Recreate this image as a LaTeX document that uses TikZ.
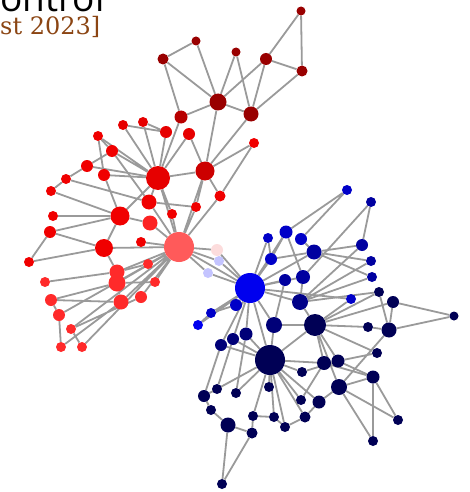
\documentclass[tikz,border=0pt]{standalone}
\usepackage{fontspec}
\newfontfamily\titlefont{Open Sans}
\newfontfamily\datefont{DejaVu Serif}
\usetikzlibrary{backgrounds}

\definecolor{crimsondk}{HTML}{990000}
\definecolor{crimsonmd}{HTML}{B80000}
\definecolor{redhub}{HTML}{CC0000}
\definecolor{redc}{HTML}{E60000}
\definecolor{redn}{HTML}{F00000}
\definecolor{redlt}{HTML}{FF2A2A}
\definecolor{redhh}{HTML}{FF5A5A}
\definecolor{pinkn}{HTML}{FCDCDC}
\definecolor{lavn}{HTML}{C4C4FF}
\definecolor{blhub}{HTML}{0000EE}
\definecolor{bln}{HTML}{0000C8}
\definecolor{blmd}{HTML}{0000A0}
\definecolor{navymd}{HTML}{000078}
\definecolor{navyn}{HTML}{000055}
\definecolor{edgegray}{HTML}{9A9A9A}
\definecolor{datebrown}{RGB}{139,69,19}

\begin{document}
\begin{tikzpicture}[x=1pt,y=-1pt,
  dot/.style={circle,inner sep=0pt,minimum size=#1pt},
  edge/.style={draw=edgegray,line width=1.8pt}]
\useasboundingbox (0,0) rectangle (469,492);
\node[anchor=base west,inner sep=0pt,font=\titlefont\fontsize{37}{40}\selectfont] (title) at (0,12) {ontrol};
\node[anchor=base west,inner sep=0pt,font=\datefont\fontsize{24}{28}\selectfont,text=datebrown] (date) at (0,35) {st 2023]};
% dark red group
\node[dot=9,fill=crimsondk] (a1) at (301,11) {};
\node[dot=9,fill=crimsondk] (a2) at (196,41) {};
\node[dot=11,fill=crimsondk] (a3) at (163,59) {};
\node[dot=9,fill=crimsondk] (a4) at (236,52) {};
\node[dot=12,fill=crimsondk] (a5) at (266,59) {};
\node[dot=11,fill=crimsondk] (a6) at (302,71) {};
\node[dot=17,fill=crimsondk] (a7) at (218,102) {};
\node[dot=15,fill=crimsondk] (a8) at (251,114) {};
\node[dot=13,fill=crimsonmd] (a9) at (181,117) {};
\node[dot=12,fill=redc] (a10) at (166,132) {};
\node[dot=12,fill=redc] (a11) at (189,134) {};
\node[dot=10,fill=redn] (a12) at (254,143) {};
% red group
\node[dot=24,fill=redc] (c1) at (158,178) {};
\node[dot=19,fill=redhub] (c2) at (205,171) {};
\node[dot=11,fill=redn] (c3) at (220,196) {};
\node[dot=10,fill=redc] (r1) at (123,125) {};
\node[dot=10,fill=redc] (r2) at (143,122) {};
\node[dot=10,fill=redn] (r3) at (98,136) {};
\node[dot=12,fill=redn] (r4) at (112,151) {};
\node[dot=12,fill=redn] (r5) at (87,166) {};
\node[dot=12,fill=redn] (r6) at (104,175) {};
\node[dot=10,fill=redn] (r7) at (66,179) {};
\node[dot=10,fill=redn] (r8) at (51,191) {};
\node[dot=15,fill=redn] (r9) at (149,202) {};
\node[dot=10,fill=redn] (r10) at (196,207) {};
\node[dot=19,fill=redn] (r11) at (120,216) {};
\node[dot=10,fill=redn] (r12) at (172,214) {};
\node[dot=10,fill=redn] (r13) at (53,216) {};
\node[dot=15,fill=redlt!80!redn] (r14) at (150,223) {};
\node[dot=12,fill=redn] (r15) at (50,232) {};
\node[dot=18,fill=redn] (r16) at (104,248) {};
\node[dot=10,fill=redn] (r17) at (141,242) {};
\node[dot=10,fill=redn] (r18) at (29,262) {};
\node[dot=15,fill=redlt] (r19) at (117,272) {};
\node[dot=17,fill=redlt] (r20) at (117,283) {};
\node[dot=10,fill=redlt] (r21) at (148,264) {};
\node[dot=10,fill=redlt] (r22) at (155,282) {};
\node[dot=10,fill=redlt] (r23) at (45,282) {};
\node[dot=15,fill=redlt] (r24) at (121,302) {};
\node[dot=12,fill=redlt] (r25) at (141,297) {};
\node[dot=12,fill=redlt] (r26) at (51,300) {};
\node[dot=12,fill=redlt] (r27) at (59,315) {};
\node[dot=10,fill=redlt] (r28) at (71,329) {};
\node[dot=10,fill=redlt] (r29) at (61,347) {};
\node[dot=10,fill=redlt] (r30) at (82,347) {};
\node[dot=30,fill=redhh] (h) at (179,247) {};
\node[dot=12,fill=pinkn] (p1) at (217,250) {};
\node[dot=10,fill=lavn] (p2) at (219,261) {};
\node[dot=10,fill=lavn] (p3) at (208,273) {};
% blue group
\node[dot=30,fill=blhub] (b0) at (250,288) {};
\node[dot=10,fill=bln] (b1) at (347,190) {};
\node[dot=10,fill=blmd] (b2) at (371,202) {};
\node[dot=10,fill=bln] (b3) at (268,238) {};
\node[dot=13,fill=bln] (b4) at (286,232) {};
\node[dot=12,fill=bln] (b5) at (301,239) {};
\node[dot=15,fill=blmd] (b6) at (314,252) {};
\node[dot=12,fill=blmd] (b7) at (362,245) {};
\node[dot=10,fill=blmd] (b8) at (371,261) {};
\node[dot=10,fill=blmd] (b9) at (372,277) {};
\node[dot=12,fill=bln] (b10) at (271,259) {};
\node[dot=12,fill=blmd] (b11) at (285,280) {};
\node[dot=14,fill=blmd] (b12) at (303,277) {};
\node[dot=10,fill=bln] (b13) at (351,299) {};
\node[dot=16,fill=blmd!85!black] (b14) at (300,302) {};
\node[dot=12,fill=bln] (b15) at (236,305) {};
\node[dot=10,fill=bln] (b16) at (211,313) {};
\node[dot=10,fill=blhub] (b17) at (198,325) {};
\node[dot=16,fill=navymd] (b18) at (274,325) {};
\node[dot=13,fill=navymd] (b19) at (246,334) {};
\node[dot=12,fill=navymd] (b20) at (233,339) {};
\node[dot=12,fill=navymd] (b21) at (221,345) {};
% navy group
\node[dot=30,fill=navyn] (n0) at (270,360) {};
\node[dot=10,fill=navyn] (n1) at (379,292) {};
\node[dot=12,fill=navyn] (n2) at (393,302) {};
\node[dot=9,fill=navyn] (n3) at (454,316) {};
\node[dot=22,fill=navyn] (n4) at (315,325) {};
\node[dot=10,fill=navyn] (n5) at (368,327) {};
\node[dot=15,fill=navyn] (n6) at (389,330) {};
\node[dot=10,fill=navyn] (n7) at (377,353) {};
\node[dot=14,fill=navyn] (n8) at (324,363) {};
\node[dot=13,fill=navyn] (n9) at (338,361) {};
\node[dot=10,fill=navyn] (n10) at (302,372) {};
\node[dot=16,fill=navyn] (n11) at (339,387) {};
\node[dot=13,fill=navyn] (n12) at (373,377) {};
\node[dot=10,fill=navyn] (n13) at (269,387) {};
\node[dot=10,fill=navyn] (n14) at (217,389) {};
\node[dot=10,fill=navyn] (n15) at (236,393) {};
\node[dot=12,fill=navyn] (n16) at (204,396) {};
\node[dot=10,fill=navyn] (n17) at (301,400) {};
\node[dot=13,fill=navyn] (n18) at (319,402) {};
\node[dot=10,fill=navyn] (n19) at (211,410) {};
\node[dot=10,fill=navyn] (n20) at (253,416) {};
\node[dot=10,fill=navyn] (n21) at (274,417) {};
\node[dot=11,fill=navyn] (n22) at (305,417) {};
\node[dot=15,fill=navyn] (n23) at (228,425) {};
\node[dot=10,fill=navyn] (n24) at (285,427) {};
\node[dot=11,fill=navyn] (n25) at (252,433) {};
\node[dot=10,fill=navyn] (n26) at (398,420) {};
\node[dot=10,fill=navyn] (n27) at (373,441) {};
\node[dot=10,fill=navyn] (n28) at (222,484) {};
\begin{scope}[on background layer]
% top
\draw[edge] (a1) -- (a5) (a1) -- (a6) (a5) -- (a6) (a2) -- (a3) (a2) -- (a7) (a3) -- (a7) (a3) -- (a9);
\draw[edge] (a4) -- (a7) (a4) -- (a8) (a5) -- (a7) (a5) -- (a8) (a6) -- (a8) (a7) -- (a8) (a7) -- (a9);
\draw[edge] (a7) -- (c2) (a8) -- (c2) (a12) -- (c2) (a12) -- (c3) (a11) -- (c2);
% red hubs
\draw[edge] (c1) -- (a9) (c1) -- (a10) (c1) -- (r1) (c1) -- (r2) (c1) -- (a11) (c1) -- (r3) (c1) -- (r4) (c1) -- (r5);
\draw[edge] (c1) -- (r6) (c1) -- (c2) (c1) -- (r9) (c1) -- (r11) (c1) -- (r12) (c1) -- (h) (r1) -- (a10) (r2) -- (a10);
\draw[edge] (c2) -- (c3) (c2) -- (h) (c2) -- (r10) (c3) -- (h) (r10) -- (h) (r10) -- (r9);
\draw[edge] (r3) -- (r4) (r3) -- (r6) (r4) -- (r5) (r4) -- (r9) (r5) -- (r7) (r6) -- (r11) (r7) -- (r8) (r7) -- (r9) (r8) -- (r11);
\draw[edge] (r11) -- (r13) (r11) -- (r15) (r11) -- (r14) (r11) -- (r16) (r9) -- (h) (r12) -- (h) (r14) -- (h) (r17) -- (h) (r16) -- (h);
\draw[edge] (r15) -- (r16) (r15) -- (r18) (r16) -- (r18) (r19) -- (r16) (r19) -- (r23) (r21) -- (r19) (r22) -- (r20);
\draw[edge] (r21) -- (h) (r22) -- (h) (r19) -- (h) (r20) -- (h) (r24) -- (h) (r25) -- (h) (r27) -- (h) (r28) -- (h) (r30) -- (h);
\draw[edge] (r20) -- (r26) (r24) -- (r26) (r26) -- (r27) (r27) -- (r29) (r28) -- (r30) (r28) -- (r25) (r29) -- (r24) (r24) -- (r20);
\draw[edge] (h) -- (p1) (h) -- (p2) (h) -- (p3) (h) -- (b0) (p1) -- (b0) (p2) -- (b0) (p3) -- (b0);
% blue
\draw[edge] (b1) -- (b4) (b1) -- (b5) (b2) -- (b7) (b2) -- (b12) (b6) -- (b7) (b6) -- (b8) (b6) -- (b9) (b6) -- (b0) (b5) -- (b6);
\draw[edge] (b3) -- (b0) (b3) -- (b10) (b4) -- (b0) (b4) -- (b12) (b4) -- (b10) (b10) -- (b0) (b10) -- (b6);
\draw[edge] (b11) -- (b0) (b11) -- (b18) (b12) -- (b0) (b12) -- (b14) (b7) -- (b14) (b8) -- (b14) (b9) -- (b14);
\draw[edge] (b0) -- (b13) (b0) -- (b14) (b0) -- (b15) (b0) -- (b16) (b0) -- (b17) (b0) -- (b18) (b0) -- (n0) (b0) -- (b19) (b0) -- (b20) (b0) -- (b21);
\draw[edge] (b14) -- (n1) (b13) -- (n4) (b14) -- (n4) (b15) -- (b16) (b16) -- (b17);
% navy
\draw[edge] (n1) -- (n6) (n2) -- (n6) (n2) -- (n3) (n6) -- (n3) (n4) -- (n1) (n4) -- (n2) (n4) -- (n5) (n5) -- (n6);
\draw[edge] (n4) -- (n0) (n4) -- (n8) (n4) -- (n9) (n4) -- (n11) (n4) -- (b18) (n6) -- (n11) (n7) -- (n9) (n7) -- (n4);
\draw[edge] (n8) -- (n9) (n9) -- (n12) (n11) -- (n12) (n11) -- (n26) (n11) -- (n27) (n12) -- (n27) (n12) -- (n26) (n11) -- (n18);
\draw[edge] (n18) -- (n22) (n22) -- (n24) (n24) -- (n21) (n8) -- (n17) (n10) -- (n9) (n21) -- (n20) (n12) -- (n8);
\draw[edge] (n0) -- (b18) (n0) -- (b19) (n0) -- (b20) (n0) -- (b21) (n0) -- (n13) (n0) -- (n14) (n0) -- (n15) (n0) -- (n16);
\draw[edge] (n0) -- (n20) (n0) -- (n21) (n0) -- (n17) (n0) -- (n10) (n0) -- (n8) (n0) -- (n22) (n0) -- (n24) (n0) -- (n18);
\draw[edge] (n16) -- (n19) (n19) -- (n23) (n23) -- (n25) (n25) -- (n20) (n23) -- (n28) (n25) -- (n28) (n16) -- (b21) (n14) -- (b20) (n15) -- (b19);
\end{scope}
\end{tikzpicture}
\end{document}
